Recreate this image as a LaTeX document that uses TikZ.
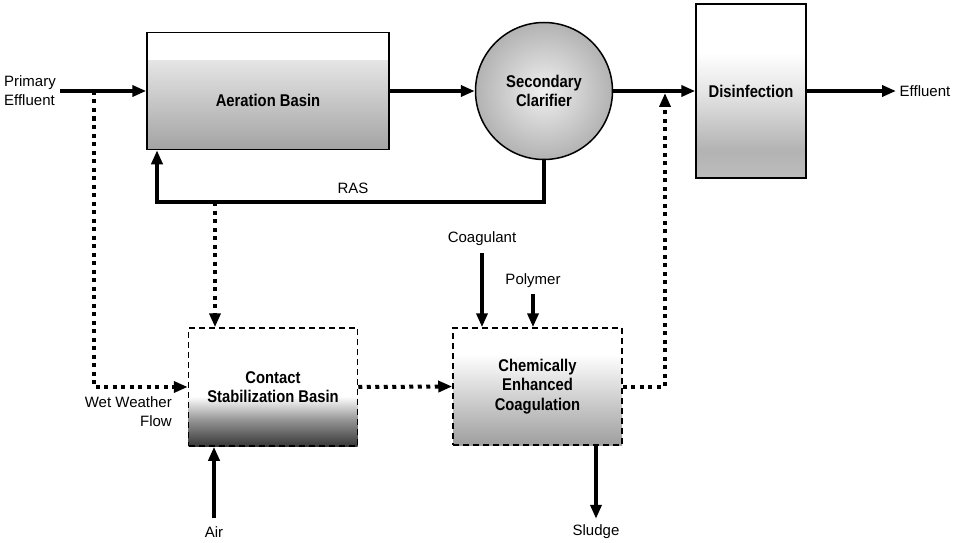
\documentclass[tikz,border=0pt]{standalone}
\usepackage{fontspec}
\setmainfont{Liberation Sans}
\newfontfamily\nbf{Liberation Sans Bold}[FakeStretch=0.87]
\usetikzlibrary{arrows.meta,calc}
\pgfdeclareverticalshading{aershade}{100bp}{color(0bp)=(black!36); color(25bp)=(black!36); color(63.4bp)=(black!10); color(63.5bp)=(white); color(100bp)=(white)}
\pgfdeclareverticalshading{disshade}{100bp}{color(0bp)=(black!26); color(25bp)=(black!26); color(33bp)=(black!30); color(50bp)=(black!10); color(61bp)=(white); color(100bp)=(white)}
\pgfdeclareverticalshading{csbshade}{100bp}{color(0bp)=(black!78); color(25bp)=(black!78); color(36bp)=(black!42); color(46bp)=(white); color(100bp)=(white)}
\pgfdeclareverticalshading{cecshade}{100bp}{color(0bp)=(black!38); color(25bp)=(black!38); color(64bp)=(white); color(100bp)=(white)}
\begin{document}
\begin{tikzpicture}[x=1pt,y=-1pt,
  lbl/.style={font=\fontsize{15}{19}\selectfont, inner sep=1pt},
  blbl/.style={font=\nbf\fontsize{17}{19.5}\selectfont, align=center},
  flow/.style={line width=4pt, -{Triangle[length=14pt,width=11pt]}},
  dotflow/.style={line width=4pt, dash pattern=on 4pt off 4.5pt, -{Triangle[length=14pt,width=11pt]}},
  unit/.style={draw=black, line width=1.5pt, inner sep=0pt},
  dunit/.style={draw=black, line width=1.5pt, dash pattern=on 6pt off 4pt, inner sep=0pt},
]
\fill[white] (0,0) rectangle (954,543);
\useasboundingbox (0,0) rectangle (954,543);

% units
\node[unit, shade, shading=aershade, minimum width=242pt, minimum height=117pt]
  (aer) at (268,91) {};
\node[blbl] (aerlbl) at (268,100) {Aeration Basin};

\node[unit, circle, minimum size=137pt, inner color=black!6, outer color=black!30, blbl]
  (sc) at (544,91) {Secondary\\Clarifier};

\node[unit, blbl, shade, shading=disshade, minimum width=110pt, minimum height=174pt]
  (dis) at (751,91) {Disinfection};

\node[dunit, blbl, shade, shading=csbshade, minimum width=169pt, minimum height=118pt]
  (csb) at (273,387) {Contact\\Stabilization Basin};

\node[dunit, blbl, shade, shading=cecshade, minimum width=169pt, minimum height=117pt]
  (cec) at (537.5,386.5) {Chemically\\Enhanced\\Coagulation};

% labels
\node[lbl, align=left] (pelbl) at (30,91) {Primary\\Effluent};
\node[lbl] (efflbl) at (925,91) {Effluent};
\node[lbl] (raslbl) at (353,188) {RAS};
\node[lbl, align=right, anchor=east] (wwlbl) at (173,412) {Wet Weather\\Flow};
\node[lbl] (coag) at (482,239) {Coagulant};
\node[lbl] (poly) at (533,281) {Polymer};
\node[lbl] (sludge) at (596,532) {Sludge};
\node[lbl] (air) at (214,532) {Air};

% coordinates
\coordinate (pe) at (60,91);
\coordinate (ww) at (94,91);
\coordinate (eff) at (896,91);
\coordinate (rasc) at (157,202);
\coordinate (rasb) at (215,202);
\coordinate (join) at (665,93);

% main flow
\draw[flow] (pe) -- (aer.west);
\draw[flow] (aer.east) -- (sc.west);
\draw[flow] (sc.east) -- (dis.west);
\draw[flow] (dis.east) -- (eff);
\draw[flow] (sc.south) |- (rasc) -- (rasc |- aer.south);

% wet weather flows
\draw[dotflow] (ww) |- (csb.west);
\draw[dotflow] (rasb) -- (rasb |- csb.north);
\draw[dotflow] (csb.east) -- (cec.west);
\draw[dotflow] (cec.east) -| (join);

% chemicals, air, sludge
\draw[flow, shorten <=6pt] (coag.south) -- (coag.south |- cec.north);
\draw[flow, shorten <=5pt] (poly.south) -- (poly.south |- cec.north);
\draw[flow, shorten >=5pt] (cec.south -| sludge.north) -- (sludge.north);
\draw[flow, shorten <=7pt] (air.north) -- (air.north |- csb.south);
\end{tikzpicture}
\end{document}
